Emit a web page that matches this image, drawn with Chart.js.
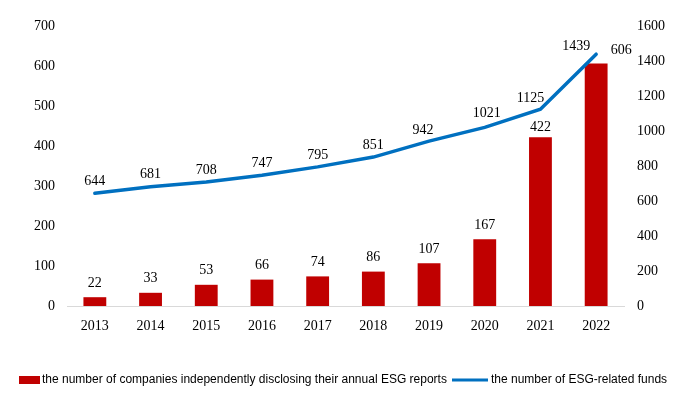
<!DOCTYPE html>
<html><head><meta charset="utf-8">
<script src="https://cdn.jsdelivr.net/npm/chart.js@4/dist/chart.umd.min.js"></script>
<style>html,body{margin:0;padding:0;background:#fff}#wrap{width:683px;height:398px;position:relative}</style>
</head><body><div id="wrap"><canvas id="c" width="683" height="398"></canvas></div>
<script>
const years = ['2013','2014','2015','2016','2017','2018','2019','2020','2021','2022'];
const companies = [22,33,53,66,74,86,107,167,422,606];
const funds = [644,681,708,747,795,851,942,1021,1125,1439];
const companiesLabel = 'the number of companies independently disclosing their annual ESG reports';
const fundsLabel = 'the number of ESG-related funds';

const RED = '#C00000', BLUE = '#0070C0';
const serif = '"Liberation Serif","Times New Roman",serif';

const barOffsets = {8: [0, -10], 9: [25, -13]};
const lineOffsets = {6: [-6, -11], 7: [2, -14], 8: [-10, -11], 9: [-20, -8]};

const labelPlugin = {
  id: 'vals',
  afterDatasetsDraw(chart) {
    const ctx = chart.ctx;
    ctx.save();
    ctx.font = '14px ' + serif;
    ctx.fillStyle = '#000';
    ctx.textAlign = 'center';
    ctx.textBaseline = 'middle';
    chart.getDatasetMeta(0).data.forEach((el, i) => {
      const [dx, dy] = barOffsets[i] || [0, -14];
      ctx.fillText(String(companies[i]), el.x + dx, el.y + dy);
    });
    chart.getDatasetMeta(1).data.forEach((el, i) => {
      const [dx, dy] = lineOffsets[i] || [0, -12];
      ctx.fillText(String(funds[i]), el.x + dx, el.y + dy);
    });
    // legend
    const ly = 380;
    ctx.font = '12px "Liberation Sans",Arial,sans-serif';
    ctx.textAlign = 'left';
    ctx.fillStyle = RED;
    ctx.fillRect(19, ly - 4, 21, 8);
    ctx.fillStyle = '#000';
    ctx.fillText(companiesLabel, 42, ly);
    ctx.strokeStyle = BLUE;
    ctx.lineWidth = 3;
    ctx.beginPath(); ctx.moveTo(452, ly); ctx.lineTo(488, ly); ctx.stroke();
    ctx.fillText(fundsLabel, 491, ly);
    ctx.restore();
  }
};

new Chart(document.getElementById('c'), {
  data: {
    labels: years,
    datasets: [
      { type: 'bar', label: companiesLabel, data: companies, backgroundColor: RED, yAxisID: 'y', order: 2, barPercentage: 0.41, categoryPercentage: 1.0 },
      { type: 'line', label: fundsLabel, data: funds, borderColor: BLUE, borderWidth: 3.5, pointRadius: 0, tension: 0, yAxisID: 'y1', order: 1, borderCapStyle: 'round' }
    ]
  },
  options: {
    responsive: false,
    animation: false,
    layout: { padding: { top: 26, bottom: 52, left: 0, right: 0 } },
    plugins: { legend: { display: false }, tooltip: { enabled: false } },
    scales: {
      x: {
        grid: { display: false },
        border: { display: true, color: '#d9d9d9', width: 1 },
        ticks: { color: '#000', font: { family: serif, size: 14 }, padding: 4 },
        afterFit(s) { s.height = 40; }
      },
      y: {
        position: 'left', min: 0, max: 700,
        grid: { display: false, drawTicks: false }, border: { display: false },
        ticks: { stepSize: 100, color: '#000', font: { family: serif, size: 14 }, padding: 12, callback: v => String(v) },
        afterFit(s) { s.width = 67; }
      },
      y1: {
        position: 'right', min: 0, max: 1600,
        grid: { display: false, drawTicks: false }, border: { display: false },
        ticks: { stepSize: 200, color: '#000', font: { family: serif, size: 14 }, padding: 13, callback: v => String(v) },
        afterFit(s) { s.width = 59; }
      }
    }
  },
  plugins: [labelPlugin]
});
</script>
</body></html>
